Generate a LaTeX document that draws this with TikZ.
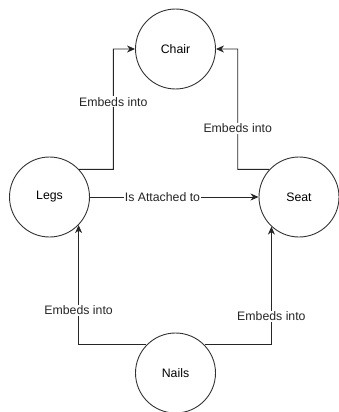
\documentclass[tikz,border=0pt]{standalone}
\usepackage{fontspec}
\setmainfont{Liberation Sans}
\usetikzlibrary{arrows.meta}
\begin{document}
\begin{tikzpicture}[x=1pt,y=-1pt,
  entity/.style={circle,draw=black!80,line width=0.9pt,minimum size=80pt,inner sep=0pt,
    font=\fontsize{12.3}{14}\selectfont},
  link/.style={draw=black!85,line width=0.9pt,-{Stealth[length=8pt,width=7pt,inset=2.5pt]}},
  tag/.style={fill=white,inner sep=1pt,font=\fontsize{12.3}{14}\selectfont,text=black!85}]
\useasboundingbox (0,0) rectangle (339,412);
% entities
\node[entity] (chair) at (175.5,49) {Chair};
\node[entity] (legs) at (49.5,197) {Legs};
\node[entity] (seat) at (299,197) {Seat};
\node[entity] (nails) at (175.5,373) {Nails};
% bend points of the upper connectors
\coordinate (lc) at (113.3,169.3);
\coordinate (sc) at (237.7,169.3);
% legs -> chair
\draw[link] (legs.43) -- (lc) |- (chair.west)
  node[tag,pos=0.28] {Embeds into};
% seat -> chair
\draw[link] (seat.137) -- (sc) |- (chair.east)
  node[tag,pos=0.17] {Embeds into};
% legs -> seat
\draw[link] (legs.east) -- (seat.west)
  node[tag,pos=0.43] {Is Attached to};
% nails -> legs
\draw[link] (nails.136) -| (legs.-44)
  node[tag,pos=0.645] {Embeds into};
% nails -> seat
\draw[link] (nails.44) -| (seat.-133)
  node[tag,pos=0.62] {Embeds into};
\end{tikzpicture}
\end{document}
